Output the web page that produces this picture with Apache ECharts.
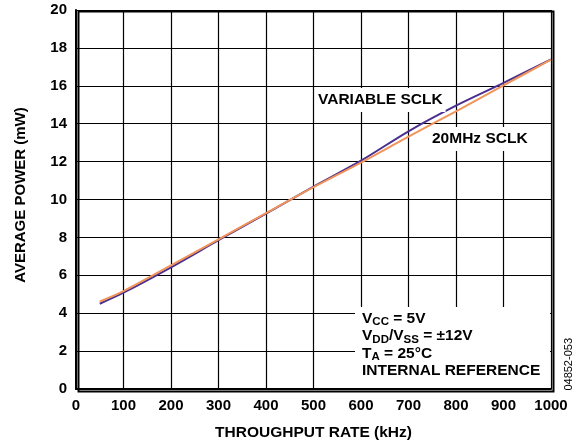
<!DOCTYPE html>
<html>
<head>
<meta charset="utf-8">
<script src="https://cdn.jsdelivr.net/npm/echarts@6/dist/echarts.min.js"></script>
<style>html,body{margin:0;padding:0;background:#fff}#c{width:579px;height:446px}</style>
</head>
<body>
<div id="c"></div>
<script>
var rates = [50, 100, 200, 300, 400, 500, 600, 700, 800, 900, 1000];
var variableSclk = [4.5, 5.08, 6.42, 7.85, 9.25, 10.68, 12.05, 13.6, 14.95, 16.15, 17.4];
var fixedSclk = [4.62, 5.17, 6.53, 7.9, 9.28, 10.65, 11.95, 13.32, 14.65, 16.02, 17.38];
var xTicks = [0, 100, 200, 300, 400, 500, 600, 700, 800, 900, 1000];
var yTicks = [0, 2, 4, 6, 8, 10, 12, 14, 16, 18, 20];

var F = '"Liberation Sans", Arial, sans-serif';
var chart = echarts.init(document.getElementById('c'));
function pairs(xs, ys){ return xs.map(function(x,i){ return [x, ys[i]]; }); }
chart.setOption({
  animation: false,
  grid: {left: 76, right: 28, top: 10, bottom: 57},
  xAxis: {
    type: 'value', min: xTicks[0], max: xTicks[xTicks.length-1], interval: 100,
    name: 'THROUGHPUT RATE (kHz)', nameLocation: 'middle', nameGap: 36,
    nameTextStyle: {fontFamily: F, fontWeight: 'bold', fontSize: 15.5, color: '#000'},
    axisLine: {lineStyle: {color: '#000', width: 2}},
    axisTick: {show: false},
    axisLabel: {fontFamily: F, fontWeight: 'bold', fontSize: 15, color: '#000', margin: 9,
      formatter: function(v){ return String(v); }},
    splitLine: {lineStyle: {color: '#000', width: 1.2}}
  },
  yAxis: {
    type: 'value', min: yTicks[0], max: yTicks[yTicks.length-1], interval: 2,
    name: 'AVERAGE POWER (mW)', nameLocation: 'middle', nameGap: 48,
    nameTextStyle: {fontFamily: F, fontWeight: 'bold', fontSize: 15, color: '#000', padding: [0,0,0,9]},
    axisLine: {show: true, lineStyle: {color: '#000', width: 2}},
    axisTick: {show: false},
    axisLabel: {fontFamily: F, fontWeight: 'bold', fontSize: 15, color: '#000', margin: 9},
    splitLine: {lineStyle: {color: '#000', width: 1.2}}
  },
  series: [
    {type: 'line', name: 'VARIABLE SCLK', data: pairs(rates, variableSclk), smooth: 0.3, symbol: 'none',
     lineStyle: {color: '#4a2f8f', width: 2}, z: 3},
    {type: 'line', name: '20MHz SCLK', data: pairs(rates, fixedSclk), smooth: 0.3, symbol: 'none',
     lineStyle: {color: '#f0945a', width: 2}, z: 4}
  ],
  graphic: [
    {type: 'rect', left: 76, top: 9, shape: {width: 475, height: 380}, style: {fill: 'none', stroke: '#000', lineWidth: 2}, z: 10},
    {type: 'text', left: 315, top: 88, z: 5,
     style: {text: 'VARIABLE SCLK', font: 'bold 15.5px ' + F, fill: '#000', backgroundColor: '#fff', padding: [4,3,4,3]}},
    {type: 'text', left: 429, top: 127, z: 5,
     style: {text: '20MHz SCLK', font: 'bold 15.5px ' + F, fill: '#000', backgroundColor: '#fff', padding: [4,3,4,3]}},
    {type: 'rect', left: 355, top: 307, shape: {width: 195, height: 81}, style: {fill: '#fff'}, z: 5},
    {type: 'text', left: 362, top: 309, z: 6,
     style: {
       text: '{m|V}{s|CC}{m| = 5V}\n{m|V}{s|DD}{m|/V}{s|SS}{m| = \u00b112V}\n{m|T}{s|A}{m| = 25\u00b0C}\n{m|INTERNAL REFERENCE}',
       fill: '#000', lineHeight: 17.5,
       rich: {m: {fontFamily: F, fontWeight: 'bold', fontSize: 15.5, lineHeight: 17.5},
              s: {fontFamily: F, fontWeight: 'bold', fontSize: 11.5, lineHeight: 17.5, padding: [7,0,0,0]}}
     }},
    {type: 'text', left: 563, top: 338, rotation: Math.PI/2, originX: 0, originY: 0, z: 6,
     style: {text: '04852-053', font: '11px ' + F, fill: '#000'}}
  ]
});
</script>
</body>
</html>
